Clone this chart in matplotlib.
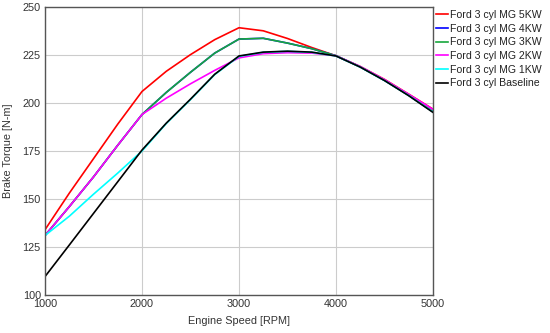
import numpy as np
import matplotlib
matplotlib.use("Agg")
import matplotlib.pyplot as plt

plt.rcParams['font.family'] = ['Liberation Sans', 'DejaVu Sans']

# engine speed [RPM]
rpm = [1000, 1250, 1500, 1750, 2000, 2250, 2500, 2750, 3000,
       3250, 3500, 3750, 4000, 4250, 4500, 4750, 5000]

# brake torque [N-m]
mg_5kw = [134, 153, 171, 189, 206, 216.5, 225.2, 233, 239.2,
          237.6, 233.6, 228.9, 224.6, 219, 212.3, 204.6, 196.8]
mg_4kw = [131, 146, 161.5, 178, 194, 205.5, 216, 226, 233.3,
          233.7, 231.2, 228.3, 224.6, 218.8, 211.8, 204, 195.5]
mg_3kw = [131, 146, 161.5, 178, 194, 205.5, 216, 226, 233.3,
          233.7, 231.2, 228.3, 224.6, 218.8, 211.8, 204, 195.5]
mg_2kw = [131, 146, 161.5, 178, 194, 202.5, 210, 217, 223.5,
          225.7, 226.2, 226, 224.6, 219, 212.2, 204.5, 196.7]
mg_1kw = [131, 141, 152.5, 163.5, 175, 189.3, 201.8, 214.8, 224.3,
          226.4, 226.9, 226.4, 224.5, 218.7, 211.7, 203.9, 195.3]
baseline = [109.6, 126, 142.5, 159, 175.5, 189.5, 202, 215, 224.5,
            226.5, 227, 226.5, 224.5, 218.7, 211.7, 203.8, 195.1]

series = [
    ("Ford 3 cyl MG 5KW", mg_5kw, "#ff0000"),
    ("Ford 3 cyl MG 4KW", mg_4kw, "#0000ff"),
    ("Ford 3 cyl MG 3KW", mg_3kw, "#17a73c"),
    ("Ford 3 cyl MG 2KW", mg_2kw, "#ff00ff"),
    ("Ford 3 cyl MG 1KW", mg_1kw, "#00ffff"),
    ("Ford 3 cyl Baseline", baseline, "#000000"),
]

fig = plt.figure(figsize=(5.5, 3.33), dpi=100)
ax = fig.add_axes([45 / 550, 1 - 295 / 333, 388 / 550, 288 / 333])

for name, vals, col in series:
    ax.plot(rpm, vals, color=col, lw=1.2, label=name)

ax.set_xlim(1000, 5000)
ax.set_ylim(100, 250)
ax.set_xticks([1000, 2000, 3000, 4000, 5000])
ax.set_yticks([100, 125, 150, 175, 200, 225, 250])
ax.grid(True, color="#cccccc", lw=0.8)
ax.set_axisbelow(True)
ax.tick_params(length=0, labelsize=7.8, labelcolor="#333333", pad=3)
for s in ax.spines.values():
    s.set_color("#555555")
    s.set_linewidth(1.0)

ax.set_xlabel("Engine Speed [RPM]", fontsize=7.8, color="#333333", labelpad=5)
ax.set_ylabel("Brake Torque [N-m]", fontsize=7.8, color="#333333", labelpad=7)

fig.legend(loc="upper left", bbox_to_anchor=(436 / 550, 1 - 10 / 333),
           frameon=False, fontsize=7.6, handlelength=1.1, handletextpad=0.2,
           labelspacing=0.35, borderaxespad=0, borderpad=0,
           labelcolor="#222222")

fig.savefig("out.png", dpi=100)
